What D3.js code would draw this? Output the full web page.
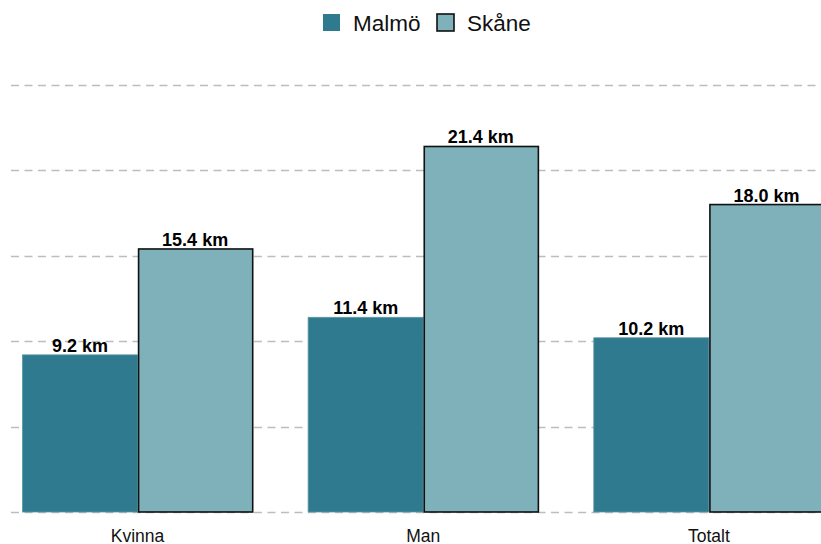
<!DOCTYPE html>
<html>
<head>
<meta charset="utf-8">
<script src="https://cdn.jsdelivr.net/npm/d3@7"></script>
<style>
  body { margin: 0; background: #fff; }
  svg { display: block; font-family: "Liberation Sans", Arial, sans-serif; }
</style>
</head>
<body>
<svg id="chart"></svg>
<script>
const WIDTH = 821,
HEIGHT = 544;

// data
const categories = ["Kvinna", "Man", "Totalt"];
const seriesNames = ["Malmö", "Skåne"];
const malmo = [9.2, 11.4, 10.2];
const skane = [15.4, 21.4, 18.0];
const yTicks = [0, 5, 10, 15, 20, 25];

const colors = { "Malmö": "#2f7a8e", "Skåne": "#7fb1bb" };

const svg = d3.select("svg#chart")
                .attr("width", WIDTH)
                .attr("height", HEIGHT);

const x = d3.scaleBand()
            .domain(categories)
            .range([-5.25, 851.75])
            .paddingInner(0.194)
            .paddingOuter(0.097);

const xInner = d3.scaleBand()
            .domain(seriesNames)
            .range([0, x.bandwidth()])
            .padding(0);

const y = d3.scaleLinear()
            .domain([0, 25])
            .range([512, 85]);

// gridlines
svg.append("g")
    .attr("id", "grid")
    .selectAll("line")
    .data(yTicks)
    .join("line")
        .attr("x1", 11)
        .attr("x2", WIDTH)
        .attr("y1", (d) => Math.round(y(d)) + 0.5)
        .attr("y2", (d) => Math.round(y(d)) + 0.5)
        .attr("stroke", "#bdbdbd")
        .attr("stroke-width", 1.4)
        .attr("stroke-dasharray", "8,5.5");

const rows = categories.map((c, i) => ({ cat: c, values: [
    { key: "Malmö", value: malmo[i] },
    { key: "Skåne", value: skane[i] }
]}));

const groups = svg.append("g")
    .attr("id", "bars")
    .selectAll("g")
    .data(rows)
    .join("g")
        .attr("transform", (d) => `translate(${x(d.cat)}, 0)`);

groups.selectAll("rect")
    .data((d) => d.values)
    .join("rect")
        .attr("x", (d) => xInner(d.key) + (d.key === "Skåne" ? 1 : 0))
        .attr("y", (d) => y(d.value))
        .attr("width", (d) => xInner.bandwidth() - (d.key === "Skåne" ? 1 : 0))
        .attr("height", (d) => y(0) - y(d.value))
        .attr("fill", (d) => colors[d.key])
        .attr("stroke", (d) => d.key === "Skåne" ? "#111" : "#5d97a6")
        .attr("stroke-width", (d) => d.key === "Skåne" ? 1.6 : 0.8);

groups.selectAll("text")
    .data((d) => d.values)
    .join("text")
        .attr("x", (d) => xInner(d.key) + xInner.bandwidth() / 2)
        .attr("y", (d) => y(d.value) - 3)
        .attr("text-anchor", "middle")
        .attr("font-size", "18px")
        .attr("font-weight", "bold")
        .attr("fill", "#000")
        .text((d) => `${d.value.toFixed(1)} km`);

// x axis labels
svg.append("g")
    .attr("id", "x-axis")
    .selectAll("text")
    .data(categories)
    .join("text")
        .attr("x", (d) => x(d) + x.bandwidth() / 2)
        .attr("y", 542)
        .attr("text-anchor", "middle")
        .attr("font-size", "17.5px")
        .attr("fill", "#111")
        .text((d) => d);

// legend
const legend = svg.append("g").attr("id", "legend");
const legendX = [323, 437];
seriesNames.forEach((s, i) => {
    legend.append("rect")
        .attr("x", legendX[i])
        .attr("y", 14)
        .attr("width", 17)
        .attr("height", 17)
        .attr("fill", colors[s])
        .attr("stroke", s === "Skåne" ? "#111" : "none")
        .attr("stroke-width", 1.6);
    legend.append("text")
        .attr("x", legendX[i] + 30)
        .attr("y", 31)
        .attr("font-size", "22.5px")
        .attr("fill", "#111")
        .text(s);
});
</script>
</body>
</html>
